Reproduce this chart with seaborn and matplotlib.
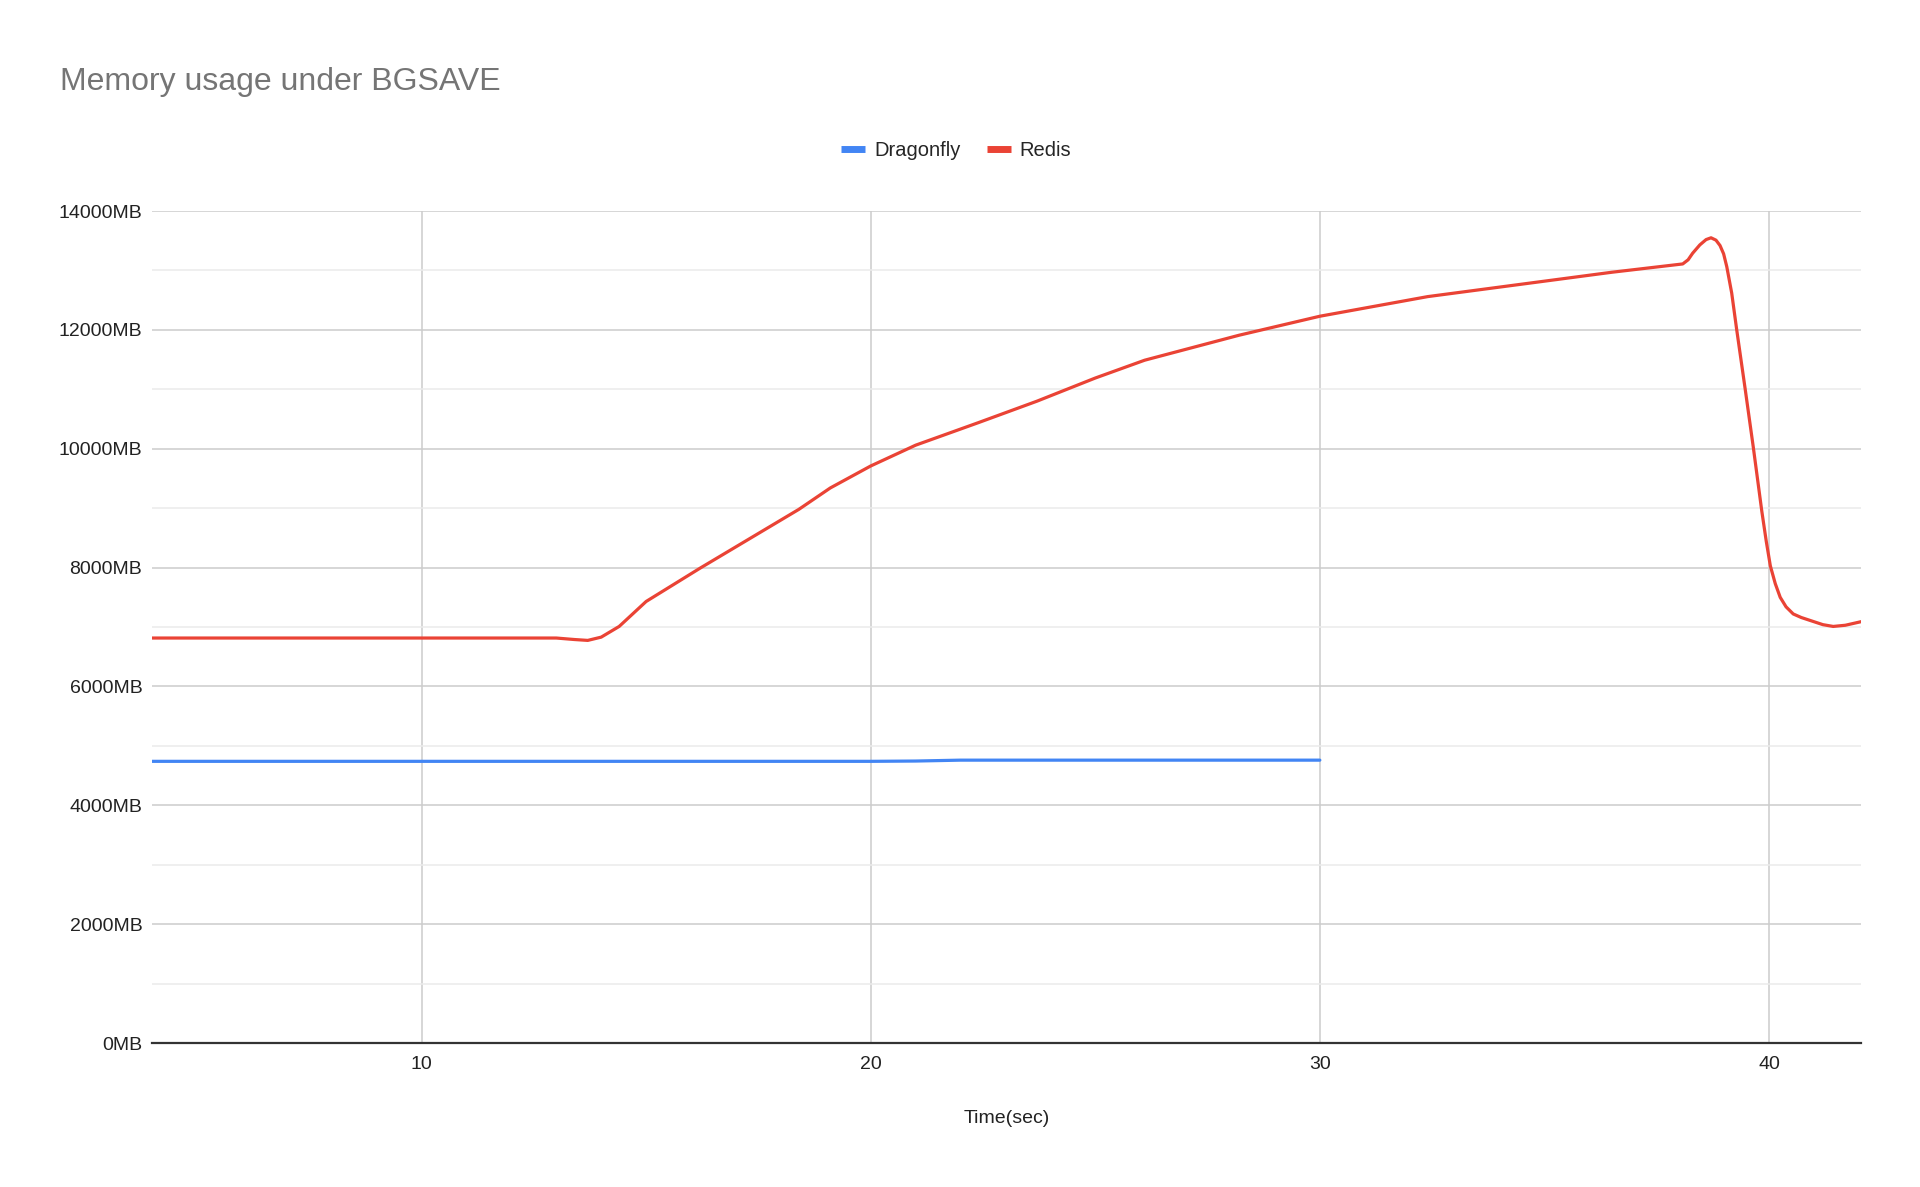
import numpy as np
import pandas as pd
import seaborn as sns
import matplotlib
matplotlib.use("Agg")
import matplotlib.pyplot as plt
from matplotlib.lines import Line2D
from matplotlib.ticker import FuncFormatter, MultipleLocator


#%% data

series_names = ["Dragonfly", "Redis"]
series_colors = ["#4285F4", "#EA4335"]

dragonfly_t = [4, 10, 15, 20, 21, 22, 25, 30]
dragonfly_mb = [4740, 4740, 4740, 4740, 4745, 4760, 4760, 4760]

redis_t = [4, 8, 13.0, 13.4, 13.7, 14.0, 14.4, 15.0, 15.6, 16.2, 17.2, 18.4, 19.1,
           20.0, 21.0, 22.4, 23.7, 25.0, 26.1, 28.2, 30.0, 32.4, 34.6, 36.5,
           38.08, 38.2, 38.3, 38.46, 38.6, 38.71, 38.82, 38.91, 38.99, 39.06,
           39.17, 39.28, 39.47, 39.65, 39.84, 39.94, 40.03, 40.14, 40.25, 40.38,
           40.54, 40.72, 40.92, 41.2, 41.43, 41.7, 42.05]
redis_mb = [6815, 6815, 6815, 6790, 6775, 6830, 7010, 7430, 7710, 7990, 8440, 8980, 9340,
            9710, 10060, 10440, 10800, 11190, 11490, 11910, 12230, 12560, 12780, 12970,
            13110, 13180, 13290, 13430, 13520, 13550, 13510, 13420, 13280, 13065,
            12620, 12010, 11005, 10030, 8950, 8440, 8030, 7730, 7500, 7340,
            7220, 7160, 7110, 7040, 7010, 7030, 7090]

x_ticks = [10, 20, 30, 40]
title = "Memory usage under BGSAVE"
x_label = "Time(sec)"


#%% long form frame for seaborn

df = pd.concat([
    pd.DataFrame({"t": dragonfly_t, "mb": dragonfly_mb, "series": "Dragonfly"}),
    pd.DataFrame({"t": redis_t, "mb": redis_mb, "series": "Redis"}),
], ignore_index=True)


#%% plot

sns.set_theme(style="white")
plt.rcParams["font.family"] = ["Liberation Sans", "DejaVu Sans"]

fig = plt.figure(figsize=(19.2, 11.87), dpi=100)
ax = fig.add_axes([0.0792, 0.1213, 0.9693 - 0.0792, 0.8222 - 0.1213])

sns.lineplot(data=df, x="t", y="mb", hue="series", hue_order=series_names,
             palette=series_colors, linewidth=2.3, ax=ax, legend=False,
             sort=False, estimator=None)

ax.set_xlim(4, 42.05)
ax.set_ylim(0, 14000)
ax.set_xticks(x_ticks)
ax.yaxis.set_major_locator(MultipleLocator(2000))
ax.yaxis.set_minor_locator(MultipleLocator(1000))
ax.yaxis.set_major_formatter(FuncFormatter(lambda v, _: f"{int(v)}MB"))

ax.grid(which="major", axis="both", color="#cccccc", linewidth=1.1)
ax.grid(which="minor", axis="y", color="#ebebeb", linewidth=1.1)
ax.set_axisbelow(True)

for side in ["top", "right", "left"]:
    ax.spines[side].set_visible(False)
ax.spines["bottom"].set_color("#333333")
ax.spines["bottom"].set_linewidth(1.6)
ax.spines["bottom"].set_zorder(5)

ax.tick_params(axis="both", which="both", length=0, labelsize=14,
               colors="#222222")
ax.tick_params(axis="x", pad=9)
ax.tick_params(axis="y", pad=7)

ax.set_xlabel(x_label, fontsize=14, color="#222222", labelpad=27)
ax.set_ylabel("")

fig.text(0.031, 0.931, title, fontsize=23, color="#757575",
         ha="left", va="center")

handles = [Line2D([], [], color=c, linewidth=5, solid_capstyle="butt")
           for c in series_colors]
fig.legend(handles, series_names, loc="center", bbox_to_anchor=(0.498, 0.873),
           ncol=2, frameon=False, fontsize=14.5, handlelength=1.2,
           handletextpad=0.45, columnspacing=1.3)

fig.savefig("out.png", dpi=100, facecolor="white")
